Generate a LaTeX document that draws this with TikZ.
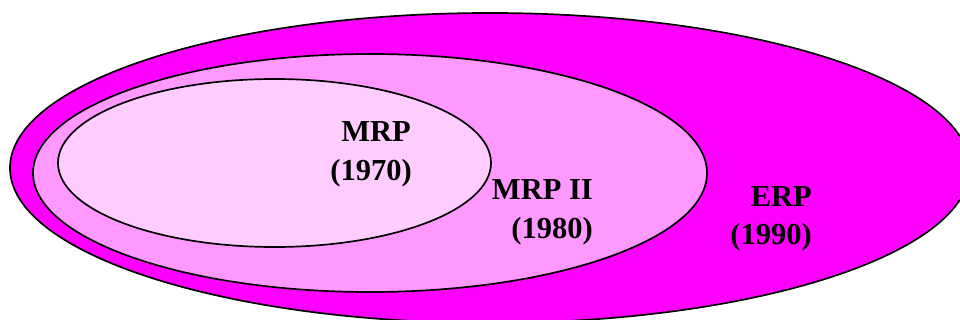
\documentclass[tikz,border=0pt]{standalone}
\usepackage{fontspec}
\setmainfont{Liberation Serif}
\definecolor{erpcol}{RGB}{255,0,255}
\definecolor{mrpiicol}{RGB}{255,153,255}
\definecolor{mrpcol}{RGB}{255,204,255}
\begin{document}
\begin{tikzpicture}[x=1pt,y=-1pt,
  ring/.style={draw=black,line width=1.7pt},
  lbl/.style={anchor=base east,inner sep=0pt,font=\fontsize{30.5}{38}\selectfont\bfseries}]
\useasboundingbox (0,0) rectangle (960,320);
\clip (0,0) rectangle (960,320);
\fill[white] (0,0) rectangle (960,320);
\draw[ring,fill=erpcol] (490,168) ellipse (480 and 155);
\draw[ring,fill=mrpiicol] (370,173) ellipse (337 and 119);
\draw[ring,fill=mrpcol] (274.5,163) ellipse (216.5 and 84);
\node[lbl] (mrp) at (411,142) {MRP};
\node[lbl] (mrpyear) at (412,181) {(1970)};
\node[lbl] (mrpii) at (593,200) {MRP II};
\node[lbl] (mrpiiyear) at (593,238) {(1980)};
\node[lbl] (erp) at (812,207) {ERP};
\node[lbl] (erpyear) at (812,244) {(1990)};
\end{tikzpicture}
\end{document}
